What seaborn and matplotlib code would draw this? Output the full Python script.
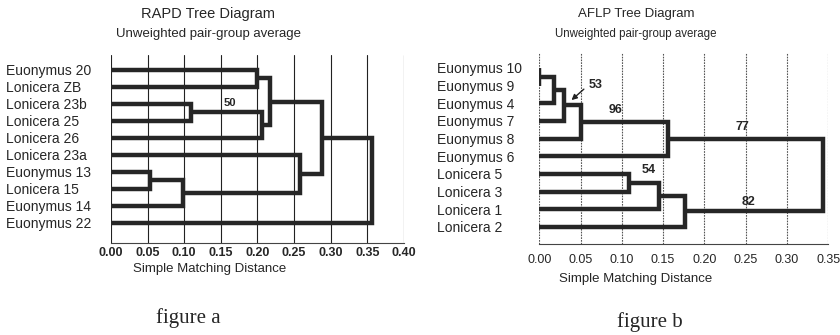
import matplotlib
matplotlib.use("Agg")
import matplotlib.pyplot as plt
import seaborn as sns

# RAPD tree (figure a)
rapd_leaves = ['Euonymus 20', 'Lonicera ZB', 'Lonicera 23b', 'Lonicera 25', 'Lonicera 26',
               'Lonicera 23a', 'Euonymus 13', 'Lonicera 15', 'Euonymus 14', 'Euonymus 22']
# merges: (child a, child b, distance); ids >= n are earlier merges
rapd_merges = [(0, 1, 0.200), (2, 3, 0.110), (11, 4, 0.206), (10, 12, 0.217),
               (6, 7, 0.053), (14, 8, 0.098), (5, 15, 0.258), (13, 16, 0.288),
               (17, 9, 0.356)]
rapd_boot = [('50', 0.162, 1.95)]

# AFLP tree (figure b)
aflp_leaves = ['Euonymus 10', 'Euonymus 9', 'Euonymus 4', 'Euonymus 7', 'Euonymus 8',
               'Euonymus 6', 'Lonicera 5', 'Lonicera 3', 'Lonicera 1', 'Lonicera 2']
aflp_merges = [(0, 1, 0.000), (10, 2, 0.018), (11, 3, 0.030), (12, 4, 0.051),
               (13, 5, 0.156), (6, 7, 0.109), (15, 8, 0.145), (16, 9, 0.176),
               (14, 17, 0.344)]
aflp_boot = [('53', 0.068, 0.95), ('96', 0.092, 2.38), ('77', 0.246, 3.35),
             ('54', 0.133, 5.78), ('82', 0.253, 7.58)]

sns.set_theme(style="white")
plt.rcParams['font.family'] = ['Liberation Sans', 'DejaVu Sans']

fig = plt.figure(figsize=(8.4, 3.35), dpi=100)
ax_a = fig.add_axes([0.132, 0.275, 0.349, 0.561])
ax_b = fig.add_axes([0.642, 0.272, 0.344, 0.570])


def draw_tree(ax, leaves, merges, color='#262626'):
    n = len(leaves)
    ypos = {i: float(i) for i in range(n)}
    xpos = {i: 0.0 for i in range(n)}
    for k, (a, b, h) in enumerate(merges):
        ax.plot([xpos[a], h, h, xpos[b]], [ypos[a], ypos[a], ypos[b], ypos[b]],
                color=color, lw=3.2, solid_joinstyle='miter', solid_capstyle='butt',
                zorder=3)
        ypos[n + k] = (ypos[a] + ypos[b]) / 2
        xpos[n + k] = h


def style_axes(ax, leaves, xmax, grid_kw, spine_ls, tick_weight, ylim, pad, xpad):
    ax.set_xlim(0, xmax)
    ax.set_ylim(*ylim)
    ticks = [round(0.05 * i, 2) for i in range(int(round(xmax / 0.05)) + 1)]
    ax.set_xticks(ticks)
    ax.set_xticklabels([f'{t:.2f}' for t in ticks], fontsize=9, fontweight=tick_weight)
    for t in ticks:
        ax.axvline(t, zorder=1, **grid_kw)
    ax.set_yticks(range(len(leaves)))
    ax.set_yticklabels(leaves, fontsize=10, ha='left')
    ax.tick_params(axis='y', length=0, pad=pad)
    ax.tick_params(axis='x', length=0, pad=xpad)
    for s in ['top', 'left', 'right']:
        ax.spines[s].set_visible(False)
    ax.spines['bottom'].set_linestyle(spine_ls)
    ax.spines['bottom'].set_color('#444444')
    ax.spines['bottom'].set_linewidth(0.8)


draw_tree(ax_a, rapd_leaves, rapd_merges)
style_axes(ax_a, rapd_leaves, 0.40, dict(color='#222222', lw=0.8), '-', 'bold',
           (10.18, -0.88), 75.5, 3)
for txt, x, y in rapd_boot:
    ax_a.text(x, y, txt, fontsize=8, fontweight='bold', ha='center', va='center', zorder=4)

draw_tree(ax_b, aflp_leaves, aflp_merges)
style_axes(ax_b, aflp_leaves, 0.35, dict(color='#555555', lw=0.8, ls=(0, (1.5, 1))),
           (0, (1.5, 1)), 'normal', (9.96, -0.85), 73.5, 7)
for txt, x, y in aflp_boot:
    ax_b.text(x, y, txt, fontsize=9, fontweight='bold', ha='center', va='center', zorder=4)
ax_b.annotate('', xy=(0.039, 1.82), xytext=(0.054, 1.2),
              arrowprops=dict(arrowstyle='-|>', color='#222222', lw=1, mutation_scale=8,
                              shrinkA=0, shrinkB=0))

fig.text(0.248, 0.958, 'RAPD Tree Diagram', fontsize=10.5, ha='center', va='center')
fig.text(0.248, 0.898, 'Unweighted pair-group average', fontsize=9.5, ha='center', va='center')
fig.text(0.757, 0.958, 'AFLP Tree Diagram', fontsize=9.5, ha='center', va='center')
fig.text(0.757, 0.900, 'Unweighted pair-group average', fontsize=8.3, ha='center', va='center')

fig.text(0.249, 0.197, 'Simple Matching Distance', fontsize=9.5, ha='center', va='center')
fig.text(0.757, 0.167, 'Simple Matching Distance', fontsize=9.5, ha='center', va='center')

fig.text(0.224, 0.05, 'figure a', fontsize=15, ha='center', va='center',
         family=['Liberation Serif', 'DejaVu Serif'])
fig.text(0.773, 0.04, 'figure b', fontsize=15, ha='center', va='center',
         family=['Liberation Serif', 'DejaVu Serif'])

fig.savefig('out.png', dpi=100)
